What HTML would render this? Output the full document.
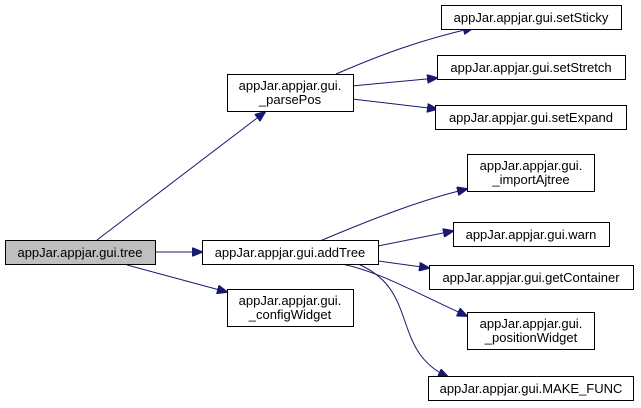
<!DOCTYPE html>
<html><head><meta charset="utf-8"><style>
html,body{margin:0;padding:0;background:#fff;}
svg{display:block;}
text{font-family:"Liberation Sans",Helvetica,Arial,sans-serif;font-size:13px;fill:#000;}
</style></head><body>
<svg width="641" height="408" viewBox="0 0 641 408" xmlns="http://www.w3.org/2000/svg">
<defs>
<marker id="a" markerWidth="11" markerHeight="9" refX="10" refY="4.5" orient="auto" markerUnits="userSpaceOnUse">
<path d="M0,0 L11,4.5 L0,9 Z" fill="#191970" stroke="#191970"/>
</marker>
</defs>
<g fill="none" stroke="#191970" stroke-width="1" marker-end="url(#a)">
<path d="M97,240 L265,112"/>
<path d="M155,252 L202,252"/>
<path d="M127,265 L227,292"/>
<path d="M336,74 C380,55 420,40 473,28"/>
<path d="M352,86 L437,78"/>
<path d="M352,99 L437,109"/>
<path d="M320,241 C370,220 420,200 467,189"/>
<path d="M378,246 L453,231"/>
<path d="M378,261 L429,268"/>
<path d="M342,264 C380,272 410,290 467,316"/>
<path d="M358,264 C420,290 390,350 448,377"/>
</g>
<g stroke="#000" stroke-width="1">
<rect x="5.5" y="240.5" width="150" height="24" fill="#bfbfbf"/>
<rect x="227.5" y="74.5" width="126" height="37" fill="#fff"/>
<rect x="202.5" y="240.5" width="176" height="24" fill="#fff"/>
<rect x="227.5" y="289.5" width="126" height="37" fill="#fff"/>
<rect x="441.5" y="5.5" width="180" height="24" fill="#fff"/>
<rect x="437.5" y="55.5" width="188" height="24" fill="#fff"/>
<rect x="435.5" y="105.5" width="191" height="24" fill="#fff"/>
<rect x="467.5" y="154.5" width="127" height="37" fill="#fff"/>
<rect x="453.5" y="222.5" width="156" height="24" fill="#fff"/>
<rect x="429.5" y="265.5" width="204" height="24" fill="#fff"/>
<rect x="467.5" y="312.5" width="127" height="37" fill="#fff"/>
<rect x="428.5" y="376.5" width="205" height="24" fill="#fff"/>
</g>
<g text-anchor="middle">
<text x="80" y="257">appJar.appjar.gui.tree</text>
<text x="290" y="90">appJar.appjar.gui.</text>
<text x="290" y="104">_parsePos</text>
<text x="290" y="257">appJar.appjar.gui.addTree</text>
<text x="290" y="305">appJar.appjar.gui.</text>
<text x="290" y="319">_configWidget</text>
<text x="531" y="22">appJar.appjar.gui.setSticky</text>
<text x="531" y="72">appJar.appjar.gui.setStretch</text>
<text x="531" y="122">appJar.appjar.gui.setExpand</text>
<text x="531" y="170">appJar.appjar.gui.</text>
<text x="531" y="184">_importAjtree</text>
<text x="531" y="239">appJar.appjar.gui.warn</text>
<text x="531" y="282">appJar.appjar.gui.getContainer</text>
<text x="531" y="328">appJar.appjar.gui.</text>
<text x="531" y="342">_positionWidget</text>
<text x="531" y="393">appJar.appjar.gui.MAKE_FUNC</text>
</g>
</svg>
</body></html>
